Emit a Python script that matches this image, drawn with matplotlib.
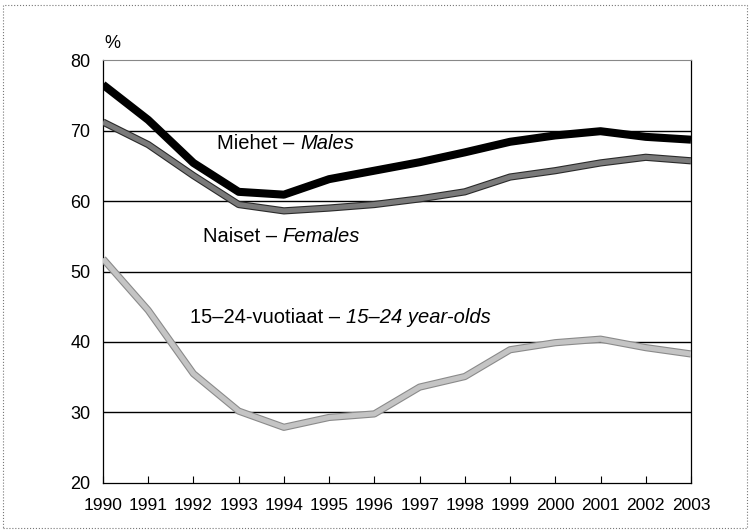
import matplotlib
matplotlib.use('Agg')
import matplotlib.pyplot as plt
import matplotlib.patheffects as pe
from matplotlib.patches import Rectangle

# Data
years = [1990, 1991, 1992, 1993, 1994, 1995, 1996, 1997, 1998, 1999, 2000, 2001, 2002, 2003]
males = [76.5, 71.5, 65.4, 61.3, 60.9, 63.1, 64.3, 65.5, 66.9, 68.4, 69.3, 69.9, 69.1, 68.7]
females = [71.2, 68.0, 63.6, 59.5, 58.6, 59.0, 59.5, 60.3, 61.3, 63.4, 64.3, 65.4, 66.2, 65.7]
youth = [51.8, 44.5, 35.5, 30.2, 27.9, 29.3, 29.8, 33.6, 35.1, 38.9, 39.9, 40.4, 39.2, 38.3]
yticks = [20, 30, 40, 50, 60, 70, 80]

plt.rcParams['font.family'] = ['Liberation Sans', 'DejaVu Sans']

fig = plt.figure(figsize=(7.5, 5.31), dpi=100)
ax = fig.add_axes([0.1373, 0.0904, 0.784, 0.7966])

# Horizontal reference lines
for v in yticks[1:-1]:
    ax.axhline(v, color='black', lw=1.0, zorder=1)

# Series
ax.plot(years, youth, color='#c4c4c4', lw=3.6, solid_capstyle='butt', zorder=3,
        path_effects=[pe.Stroke(linewidth=5.2, foreground='#8a8a8a'), pe.Normal()])
ax.plot(years, females, color='#7a7a7a', lw=3.6, solid_capstyle='butt', zorder=4,
        path_effects=[pe.Stroke(linewidth=5.2, foreground='#2a2a2a'), pe.Normal()])
ax.plot(years, males, color='black', lw=5.8, solid_capstyle='butt', zorder=5)

ax.set_xlim(1990, 2003)
ax.set_ylim(20, 80)
ax.set_xticks(years)
ax.set_xticklabels([str(y) for y in years], fontsize=12.5)
ax.set_yticks(yticks)
ax.set_yticklabels([str(v) for v in yticks], fontsize=13)
ax.tick_params(axis='x', direction='in', length=5, width=0.8, pad=11)
ax.tick_params(axis='y', length=0, pad=9)

ax.spines['top'].set_color('#888888')
ax.spines['top'].set_linewidth(0.8)
for s in ['left', 'right', 'bottom']:
    ax.spines[s].set_color('black')
    ax.spines[s].set_linewidth(0.9)

ax.text(1990.2, 82.4, '%', fontsize=13, ha='center', va='center')

# Series labels, plain Finnish + italic English
def label(x, y, fi, en):
    t1 = ax.text(x, y, fi + ' \u2013 ', fontsize=14.5, ha='left', va='center', zorder=6)
    ax.annotate(en, xy=(1, 0.5), xycoords=t1, fontsize=14.5, style='italic',
                ha='left', va='center', zorder=6)

label(1992.52, 68.2, 'Miehet', 'Males')
label(1992.21, 54.9, 'Naiset', 'Females')
label(1991.92, 43.5, '15\u201324-vuotiaat', '15\u201324 year-olds')

# Dotted frame around the whole figure
fig.patches.append(Rectangle((0.004, 0.006), 0.992, 0.985, transform=fig.transFigure,
                             fill=False, edgecolor='#777777', lw=0.8, linestyle=':'))

plt.savefig('out.png', dpi=100)
